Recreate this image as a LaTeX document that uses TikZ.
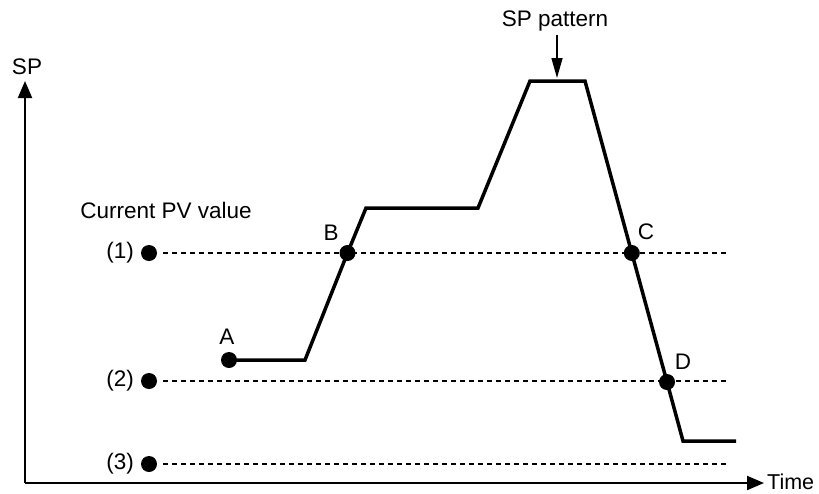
\documentclass[tikz,border=0pt]{standalone}
\usepackage{fontspec}
\setmainfont{Liberation Sans}
\usetikzlibrary{arrows.meta}

\begin{document}
\begin{tikzpicture}[x=1pt, y=-1pt,
		>={Triangle[length=17pt,width=14pt]},   % default arrow tip
		font=\fontsize{22.5}{27}\selectfont,
		dot/.style={circle, fill, inner sep=0pt, minimum size=16pt},
		level/.style={line width=1.6pt, dash pattern=on 5pt off 4pt, shorten <=6pt},
		sppath/.style={line width=3.5pt, line join=miter}]
	\useasboundingbox (0,0) rectangle (819,493);
	% axes
	\coordinate (origin) at (25,483);
	\coordinate (ytop) at (25,81);
	\coordinate (xend) at (764,483);
	\draw[->, line width=2pt] (origin) -- (ytop);
	\draw[->, line width=2pt] (origin) -- (xend);
	\node (sp) at (27,67) {SP};
	\node[anchor=west, inner sep=0pt, font=\fontsize{21.5}{26}\selectfont] (time) at (767,482) {Time};
	% current PV values
	\node (pvlabel) at (166,210) {Current PV value};
	\foreach \n/\y in {1/253, 2/381, 3/464} {
		\node[dot] (pv\n) at (149,\y) {};
		\node[anchor=east, inner sep=0pt] (pvtext\n) at (134,\y) {(\n)};
		\coordinate (pvend\n) at (726,\y);
		\draw[level] (pv\n) -- (pvend\n);
	}
	% SP pattern
	\coordinate (A) at (229,360);
	\coordinate (a1) at (305,360);
	\coordinate (B) at (347.5,253);
	\coordinate (b1) at (366,208);
	\coordinate (b2) at (478,208);
	\coordinate (p1) at (530,81);
	\coordinate (p2) at (585,81);
	\coordinate (C) at (631.8,253);
	\coordinate (D) at (667,382);
	\coordinate (d1) at (683,441);
	\coordinate (d2) at (736,441);
	\draw[sppath] (A) -- (a1) -- (B) -- (b1) -- (b2) -- (p1) -- (p2) -- (C) -- (D) -- (d1) -- (d2);
	\foreach \p in {A, B, C, D} \node[dot] (dot\p) at (\p) {};
	\node (labA) at (227,337) {A};
	\node (labB) at (331,233) {B};
	\node (labC) at (646,232) {C};
	\node (labD) at (683,362) {D};
	% label of the pattern
	\node (sptext) at (555,21) {SP pattern};
	\coordinate (sptip) at (557,78);
	\draw[-{Triangle[length=20pt,width=11pt]}, line width=1.5pt] (sptext.south -| sptip) -- (sptip);
\end{tikzpicture}
\end{document}
